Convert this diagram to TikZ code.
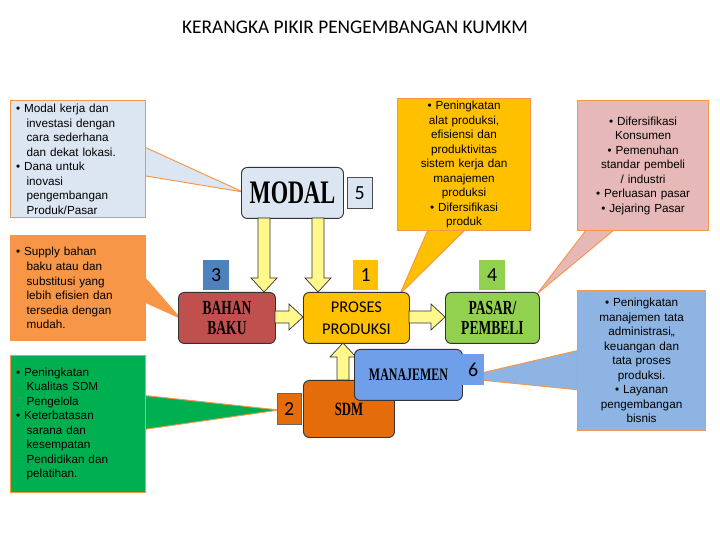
\documentclass[tikz,border=0pt]{standalone}
\usepackage{fontspec}
\setmainfont{Liberation Sans}
\newfontfamily\titlefont{Carlito}
\newfontfamily\boldserif{Liberation Serif}
\definecolor{lblue}{HTML}{DCE6F2}
\definecolor{corange}{HTML}{F79646}
\definecolor{cgreen}{HTML}{00B050}
\definecolor{cyellow}{HTML}{FFC000}
\definecolor{cpink}{HTML}{E6B9B8}
\definecolor{cblue}{HTML}{8DB4E2}
\definecolor{bred}{HTML}{C0504D}
\definecolor{bgreen}{HTML}{92D050}
\definecolor{bman}{HTML}{6F9FE8}
\definecolor{bsdm}{HTML}{E46C0A}
\definecolor{bnum}{HTML}{4F81BD}
\newcommand\cond[1]{\scalebox{0.68}[1]{#1}}
\tikzset{
 callout/.style={draw=corange, line width=1pt, anchor=north west, inner sep=3pt, font=\fontsize{10}{12.4}\selectfont},
 wedge/.style={draw=corange, line width=0.8pt},
 mainbox/.style={draw=black!80, rounded corners=5pt, line width=0.8pt, anchor=north west},
 numbox/.style={anchor=north west, font=\titlefont\fontsize{17}{17}\selectfont},
 imp/.style={font=\boldserif\bfseries\fontsize{#1}{#1}\selectfont, align=center},
 barrow/.style={draw=black!80, fill=yellow!45, line width=0.6pt, line join=miter}
}
\newcommand\downarr[3]{\filldraw[barrow] (#1-6,#2) -- (#1+6,#2) -- (#1+6,#3-14) -- (#1+13,#3-14) -- (#1,#3) -- (#1-13,#3-14) -- (#1-6,#3-14) -- cycle;}
\newcommand\uparr[3]{\filldraw[barrow] (#1-6,#2) -- (#1+6,#2) -- (#1+6,#3+14) -- (#1+13,#3+14) -- (#1,#3) -- (#1-13,#3+14) -- (#1-6,#3+14) -- cycle;}
\newcommand\rightarr[3]{\filldraw[barrow] (#2,#1-6) -- (#2,#1+6) -- (#3-14,#1+6) -- (#3-14,#1+13) -- (#3,#1) -- (#3-14,#1-13) -- (#3-14,#1-6) -- cycle;}
\begin{document}
\begin{tikzpicture}[x=0.03cm,y=-0.03cm]
\fill[white] (0,0) rectangle (720,540);
\useasboundingbox (0,0) rectangle (720,540);
\node[font=\titlefont\fontsize{16.5}{16.5}\selectfont] (title) at (355,27) {KERANGKA PIKIR PENGEMBANGAN KUMKM};
% wedges
\coordinate (t1) at (243,192);
\coordinate (t2) at (180,318);
\coordinate (t3) at (279,410);
\coordinate (t4) at (400,294);
\coordinate (t5) at (537,294);
\coordinate (t6) at (460,378);
\filldraw[wedge, fill=lblue] (140,145) -- (t1) -- (140,175) -- cycle;
\filldraw[wedge, fill=corange] (140,272) -- (t2) -- (140,300) -- cycle;
\filldraw[wedge, fill=cgreen] (140,395) -- (t3) -- (140,430) -- cycle;
\filldraw[wedge, fill=cyellow] (430,225) -- (t4) -- (470,225) -- cycle;
\filldraw[wedge, fill=cpink] (590,225) -- (t5) -- (620,225) -- cycle;
\filldraw[wedge, fill=cblue] (580,350) -- (t6) -- (580,390) -- cycle;
% callouts
\node[callout, fill=lblue, minimum width=135*0.03cm, minimum height=115*0.03cm, text width=124*0.03cm, align=left] (c1) at (10,100) {\textbullet\ Modal kerja dan\\\hspace*{0.9em}investasi dengan\\\hspace*{0.9em}cara sederhana\\\hspace*{0.9em}dan dekat lokasi.\\\textbullet\ Dana untuk\\\hspace*{0.9em}inovasi\\\hspace*{0.9em}pengembangan\\\hspace*{0.9em}Produk/Pasar};
\node[callout, fill=corange, minimum width=135*0.03cm, minimum height=105*0.03cm, text width=124*0.03cm, align=left] (c2) at (10,235) {\textbullet\ Supply bahan\\\hspace*{0.9em}baku atau dan\\\hspace*{0.9em}substitusi yang\\\hspace*{0.9em}lebih efisien dan\\\hspace*{0.9em}tersedia dengan\\\hspace*{0.9em}mudah.};
\node[callout, fill=cgreen, minimum width=135*0.03cm, minimum height=137*0.03cm, text width=124*0.03cm, align=left] (c3) at (10,355) {\textbullet\ Peningkatan\\\hspace*{0.9em}Kualitas SDM\\\hspace*{0.9em}Pengelola\\\textbullet\ Keterbatasan\\\hspace*{0.9em}sarana dan\\\hspace*{0.9em}kesempatan\\\hspace*{0.9em}Pendidikan dan\\\hspace*{0.9em}pelatihan.};
\node[callout, fill=cyellow, minimum width=133*0.03cm, minimum height=132*0.03cm, text width=127*0.03cm, align=center, inner sep=1pt] (c4) at (397,98) {\textbullet\ Peningkatan\\alat produksi,\\efisiensi dan\\produktivitas\\sistem kerja dan\\manajemen\\produksi\\\textbullet\ Difersifikasi\\produk};
\node[callout, fill=cpink, minimum width=128*0.03cm, minimum height=130*0.03cm, text width=124*0.03cm, align=center] (c5) at (577,100) {\textbullet\ Difersifikasi\\Konsumen\\\textbullet\ Pemenuhan\\standar pembeli\\/ industri\\\textbullet\ Perluasan pasar\\\textbullet\ Jejaring Pasar};
\node[callout, fill=cblue, minimum width=128*0.03cm, minimum height=140*0.03cm, text width=124*0.03cm, align=center, inner sep=1pt] (c6) at (577,290) {\textbullet\ Peningkatan\\manajemen tata\\administrasi,,\\keuangan dan\\tata proses\\produksi.\\\textbullet\ Layanan\\pengembangan\\bisnis};
% main boxes
\node[mainbox, fill=lblue, minimum width=102*0.03cm, minimum height=51*0.03cm, imp=28] (modal) at (241,167) {\cond{MODAL}};
\node[numbox, draw=black!70, fill=lblue, minimum width=25*0.03cm, minimum height=31*0.03cm] (n5) at (347,177) {5};
\node[mainbox, fill=bred, minimum width=97*0.03cm, minimum height=51*0.03cm, imp=17] (bahan) at (178,292) {\cond{BAHAN}\\\cond{BAKU}};
\node[numbox, fill=bnum, minimum width=26*0.03cm, minimum height=30*0.03cm] (n3) at (203,260) {3};
\node[mainbox, fill=cyellow, minimum width=106*0.03cm, minimum height=51*0.03cm, font=\titlefont\fontsize{14}{19}\selectfont, align=center] (proses) at (303,292) {PROSES\\PRODUKSI};
\node[numbox, fill=cyellow, minimum width=25*0.03cm, minimum height=30*0.03cm] (n1) at (353,260) {1};
\node[mainbox, fill=bgreen, minimum width=94*0.03cm, minimum height=51*0.03cm, imp=17] (pasar) at (445,292) {\cond{PASAR/}\\\cond{PEMBELI}};
\node[numbox, fill=bgreen, minimum width=26*0.03cm, minimum height=30*0.03cm] (n4) at (479,260) {4};
\node[mainbox, fill=bsdm, minimum width=91*0.03cm, minimum height=57*0.03cm, imp=16] (sdm) at (303,380) {\cond{SDM}};
\node[numbox, draw=black!60, fill=bsdm, minimum width=24*0.03cm, minimum height=31*0.03cm] (n2) at (277,393) {2};
\uparr{343}{380}{343}
\node[mainbox, fill=bman, minimum width=108*0.03cm, minimum height=51*0.03cm, imp=15] (man) at (354,349) {\cond{MANAJEMEN}};
\node[numbox, fill=bman, minimum width=22*0.03cm, minimum height=31*0.03cm] (n6) at (462,354) {6};
% block arrows
\downarr{264}{218}{292}
\downarr{318}{218}{292}
\rightarr{317}{275}{303}
\rightarr{317}{409}{445}
\end{tikzpicture}
\end{document}
